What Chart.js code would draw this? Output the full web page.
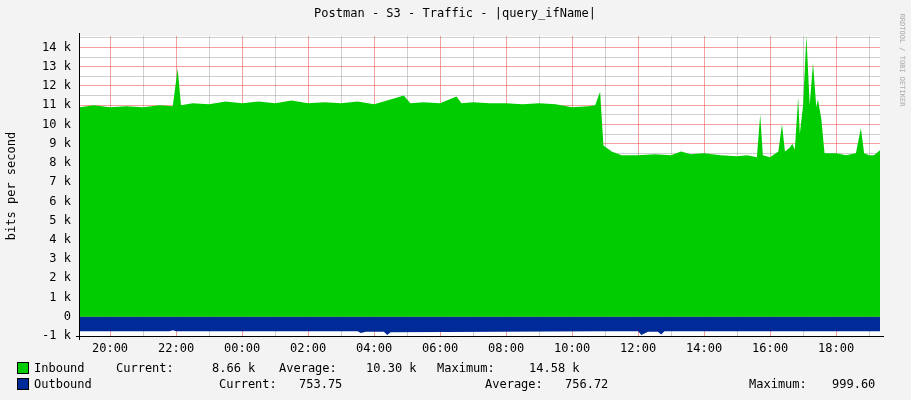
<!DOCTYPE html>
<html><head><meta charset="utf-8">
<script src="https://cdn.jsdelivr.net/npm/chart.js@4"></script>
<style>html,body{margin:0;padding:0;background:#f3f3f3}#w{width:911px;height:400px}</style>
</head><body><div id="w"><canvas id="c"></canvas></div>
<script>
// times in hours relative to 20:00 on the first day
const inTimes = [-0.91,-0.5,0,0.5,1,1.5,1.9,2.05,2.15,2.5,3,3.5,4,4.5,5,5.5,6,6.5,7,7.5,8,8.5,8.9,9.1,9.5,10,10.5,10.65,11,11.5,12,12.5,13,13.5,14,14.5,14.7,14.85,14.95,15.2,15.5,16,16.5,17,17.3,17.6,18,18.5,19,19.3,19.6,19.7,19.78,20.0,20.25,20.36,20.45,20.6,20.67,20.75,20.85,20.9,21.0,21.1,21.2,21.3,21.4,21.45,21.55,21.65,22.0,22.3,22.6,22.75,22.85,23.0,23.15,23.33];
const inbound = [10.9,11.0,10.9,10.95,10.9,11.0,10.95,12.9,11.0,11.1,11.05,11.2,11.1,11.2,11.1,11.25,11.1,11.15,11.1,11.2,11.05,11.3,11.5,11.1,11.15,11.1,11.45,11.1,11.15,11.1,11.1,11.05,11.1,11.05,10.9,10.95,11.0,11.7,8.9,8.6,8.4,8.4,8.45,8.4,8.6,8.45,8.5,8.4,8.35,8.4,8.3,10.5,8.4,8.3,8.6,10.0,8.6,8.8,9.0,8.7,11.4,9.5,11.0,14.6,11.0,13.2,10.9,11.3,10.3,8.5,8.5,8.4,8.5,9.8,8.5,8.4,8.4,8.66];
const outTimes = [-0.91,1.8,1.9,2.0,7.5,7.6,7.75,8.3,8.4,8.5,15,16.0,16.1,16.3,16.6,16.7,16.8,23.33];
const outbound = [0.75,0.75,0.7,0.75,0.75,0.85,0.78,0.78,0.95,0.8,0.75,0.75,0.95,0.78,0.78,0.92,0.75,0.75];
const yTicks = [-1,0,1,2,3,4,5,6,7,8,9,10,11,12,13,14];
const legendRows = [
 [[34,'Inbound'],[116,'Current:'],[212,'8.66 k'],[279,'Average:'],[366,'10.30 k'],[437,'Maximum:'],[529,'14.58 k']],
 [[34,'Outbound'],[219,'Current:'],[299,'753.75'],[485,'Average:'],[565,'756.72'],[749,'Maximum:'],[832,'999.60']]
];
const FONT = '"DejaVu Sans Mono", monospace';
const deco = {id:'deco', afterDraw(ch){
  const c=ch.ctx; c.save(); c.fillStyle='#000';
  c.font='12px '+FONT; c.textAlign='center'; c.textBaseline='middle';
  c.fillText('Postman - S3 - Traffic - |query_ifName|', 455, 14);
  c.save(); c.translate(12,186); c.rotate(-Math.PI/2); c.fillText('bits per second',0,0); c.restore();
  c.save(); c.fillStyle='#aaa'; c.font='7px '+FONT; c.translate(902,60); c.rotate(Math.PI/2); c.fillText('RRDTOOL / TOBI OETIKER',0,0); c.restore();
  const a=ch.chartArea;
  c.strokeStyle='#000'; c.lineWidth=1; c.beginPath();
  c.moveTo(a.left-0.5,a.top-3); c.lineTo(a.left-0.5,a.bottom+4); c.moveTo(a.left-4,a.bottom+0.5); c.lineTo(a.right+4,a.bottom+0.5); c.stroke();
  c.textAlign='left'; c.font='12px '+FONT;
  const cols=['#00cc00','#002a97'];
  legendRows.forEach((r,i)=>{const y=368+i*16;
    c.fillStyle=cols[i]; c.fillRect(17,y-5,11,11); c.strokeStyle='#000'; c.strokeRect(17.5,y-5.5,11,11);
    c.fillStyle='#000'; r.forEach(([x,t])=>c.fillText(t,x,y+1));});
  c.restore();
}};
const bg={id:'bg',beforeDraw(ch){const a=ch.chartArea,c=ch.ctx;c.save();c.fillStyle='#fff';c.fillRect(a.left,a.top,a.right-a.left,a.bottom-a.top);c.restore();}};
new Chart(document.getElementById('c'),{
 type:'line',
 data:{datasets:[
  {data:inTimes.map((t,i)=>({x:t,y:inbound[i]})),borderWidth:0,pointRadius:0,fill:'origin',backgroundColor:'#00cc00',borderColor:'#00cc00',tension:0},
  {data:outTimes.map((t,i)=>({x:t,y:-outbound[i]})),borderWidth:0,pointRadius:0,fill:'origin',backgroundColor:'#002a97',borderColor:'#002a97',tension:0}
 ]},
 options:{responsive:true,maintainAspectRatio:false,animation:false,
  layout:{padding:{left:0,right:31,top:36,bottom:0}},
  plugins:{legend:{display:false},tooltip:{enabled:false}},
  scales:{
   x:{type:'linear',min:-0.91,max:23.33,
     afterBuildTicks(s){s.ticks=[];for(let h=0;h<=23;h++)s.ticks.push({value:h});},
     afterFit(s){s.height=64;},
     border:{display:false},
     grid:{drawTicks:false,color:ctx=>(ctx.tick&&ctx.tick.value%2===0)?'rgba(230,80,80,0.55)':'rgba(160,160,160,0.5)',borderDash:[1,2],lineWidth:1},
     ticks:{autoSkip:false,maxRotation:0,padding:6,color:'#000',font:{family:FONT,size:12},
       callback:v=>v%2===0?String((20+v)%24).padStart(2,'0')+':00':''}},
   y:{min:-1,max:14.6,
     afterBuildTicks(s){const t=[];for(let v=-1;v<=14.5;v+=0.5)t.push({value:v});s.ticks=t;},
     afterFit(s){s.width=80;},
     border:{display:false},
     grid:{drawTicks:false,color:ctx=>(ctx.tick&&Number.isInteger(ctx.tick.value))?'rgba(230,80,80,0.55)':'rgba(160,160,160,0.5)',borderDash:[1,2],lineWidth:1},
     ticks:{autoSkip:false,padding:9,color:'#000',font:{family:FONT,size:12},
       callback:v=>Number.isInteger(v)&&yTicks.includes(v)?(v===0?'0':v+' k'):''}}
  }},
 plugins:[bg,deco]
});
</script></body></html>
